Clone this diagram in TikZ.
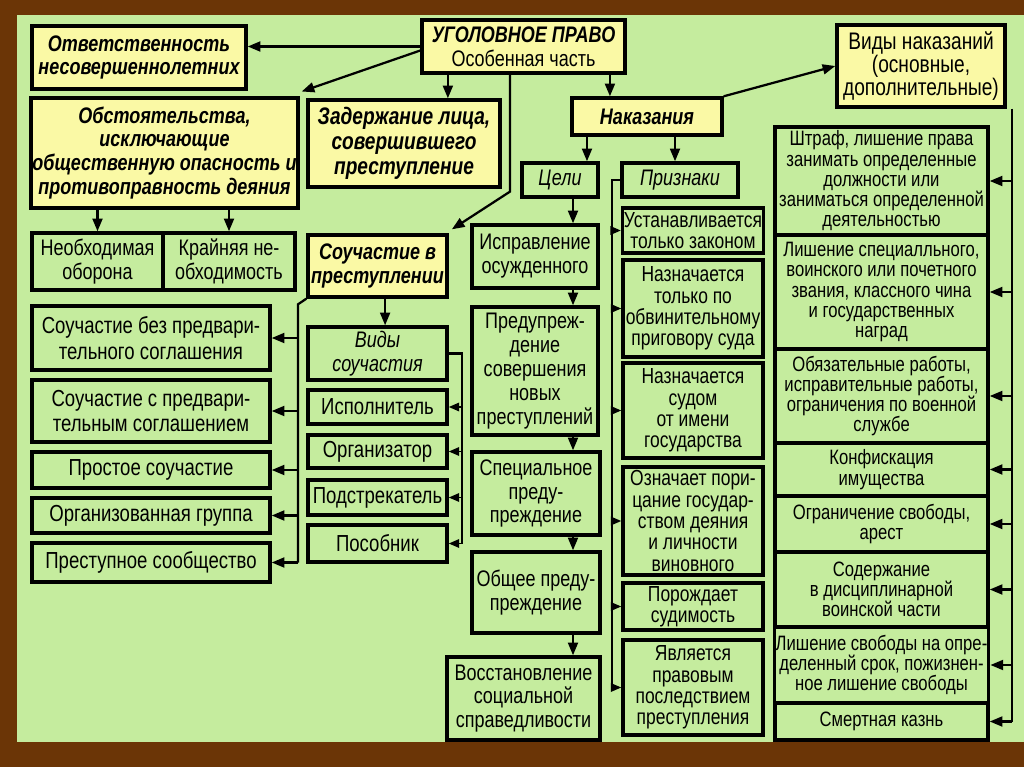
\documentclass[tikz,border=0pt]{standalone}
\usepackage{fontspec}
\setmainfont[FakeStretch=0.8]{Liberation Sans}
\usepackage{tikz}
\usetikzlibrary{positioning,arrows.meta,calc}
\definecolor{frbrown}{RGB}{107,53,6}
\definecolor{bggreen}{RGB}{197,236,158}
\definecolor{boxyellow}{RGB}{250,249,165}
\tikzset{
    gbox/.style={
        rectangle,
        draw=black,
        fill=bggreen,
        line width=2.4pt,
        align=center,
        inner xsep=1pt,
        inner ysep=0pt,
        font=\fontsize{16}{17}\selectfont
    },
    ybox/.style={
        gbox,
        fill=boxyellow,
        font=\fontsize{16}{17}\selectfont\bfseries\itshape
    },
    ibox/.style={
        gbox,
        font=\fontsize{16}{17}\selectfont\itshape
    },
    fbig/.style={font=\fontsize{16.5}{18}\selectfont},
    fsm/.style={font=\fontsize{15.5}{15.2}\selectfont},
    fxs/.style={font=\fontsize{14.8}{14.4}\selectfont},
    sz/.style 2 args={minimum width=#1*0.025cm, minimum height=#2*0.025cm},
    arr/.style={-{Triangle[length=9pt,width=7pt]},line width=1.6pt},
    sarr/.style={-{Triangle[length=7.5pt,width=6pt]},line width=1.4pt},
    ln/.style={line width=1.6pt}
}
\begin{document}
\begin{tikzpicture}[x=0.025cm,y=-0.025cm]
\fill[frbrown] (0,0) rectangle (1024,767);
\fill[bggreen] (17,15) rectangle (1024,742);

% top row
\node[ybox,sz={214}{63}] (otv) at (139,57.5) {Ответственность\\несовершеннолетних};
\node[ybox,sz={203}{53}] (pravo) at (523.5,46.5) {УГОЛОВНОЕ ПРАВО\\{\normalfont Особенная часть}};
\node[gbox,fill=boxyellow,sz={168}{82},font=\fontsize{17}{16.5}\selectfont] (vidy) at (921,66) {Виды наказаний\\(основные,\\дополнительные)};
\node[ybox,sz={150}{37}] (nakaz) at (647,116.5) {Наказания};
\node[ybox,sz={265}{110}] (obst) at (164.5,153) {Обстоятельства,\\исключающие\\общественную опасность и\\противоправность деяния};
\node[ybox,sz={192}{87},font=\fontsize{17}{18}\selectfont\bfseries\itshape] (zader) at (404,143.5) {Задержание лица,\\совершившего\\преступление};

% left part
\node[gbox,sz={131}{57}] (neob) at (97.5,261.5) {Необходимая\\оборона};
\node[gbox,sz={132}{57}] (krain) at (229,261.5) {Крайняя не-\\обходимость};
\node[ybox,sz={139}{62}] (sou) at (377.5,266) {Соучастие в\\преступлении};
\node[gbox,fbig,sz={238}{64}] (soubez) at (151,338) {Соучастие без предвари-\\тельного соглашения};
\node[gbox,fbig,sz={238}{62}] (sous) at (151,411) {Соучастие с предвари-\\тельным соглашением};
\node[gbox,fbig,sz={238}{36}] (prost) at (151,470) {Простое соучастие};
\node[gbox,fbig,sz={238}{35}] (orggr) at (151,515.5) {Организованная группа};
\node[gbox,fbig,sz={238}{39}] (presoob) at (151,562.5) {Преступное сообщество};
\node[ibox,sz={139}{53}] (vidysou) at (377.5,353.5) {Виды\\соучастия};
\node[gbox,fbig,sz={139}{34}] (ispol) at (377.5,407) {Исполнитель};
\node[gbox,fbig,sz={139}{33}] (organ) at (377.5,451.5) {Организатор};
\node[gbox,fbig,sz={139}{35}] (podstr) at (377.5,497.5) {Подстрекатель};
\node[gbox,fbig,sz={139}{37}] (posob) at (377.5,543.5) {Пособник};

% goals
\node[ibox,sz={76}{34}] (celi) at (560,180) {Цели};
\node[gbox,sz={126}{63}] (ispr) at (535,256.5) {Исправление\\осужденного};
\node[gbox,sz={126}{128}] (predupr) at (535,371) {Предупреж-\\дение\\совершения\\новых\\преступлений};
\node[gbox,sz={128}{83}] (spec) at (536,493.5) {Специальное\\преду-\\преждение};
\node[gbox,sz={128}{81}] (obsh) at (536,592.5) {Общее преду-\\преждение};
\node[gbox,sz={153}{83}] (vosst) at (523.5,698.5) {Восстановление\\социальной\\справедливости};

% features
\node[ibox,sz={116}{34}] (priz) at (680,180) {Признаки};
\node[gbox,fsm,sz={140}{45}] (ust) at (693,230.5) {Устанавливается\\только законом};
\node[gbox,fsm,sz={140}{97}] (nazn1) at (693,308.5) {Назначается\\только по\\обвинительному\\приговору суда};
\node[gbox,fsm,sz={140}{95}] (nazn2) at (693,410.5) {Назначается\\судом\\от имени\\государства};
\node[gbox,fsm,sz={140}{108}] (oznach) at (693,521) {Означает пори-\\цание государ-\\ством деяния\\и личности\\виновного};
\node[gbox,fsm,sz={140}{47}] (porozh) at (693,606.5) {Порождает\\судимость};
\node[gbox,fsm,sz={140}{95}] (yavl) at (693,687.5) {Является\\правовым\\последствием\\преступления};

% kinds of punishment
\node[gbox,fxs,sz={213}{108}] (shtraf) at (881.5,181) {Штраф, лишение права\\занимать определенные\\должности или\\заниматься определенной\\деятельностью};
\node[gbox,fxs,sz={213}{114}] (lish) at (881.5,292) {Лишение специалльного,\\воинского или почетного\\звания, классного чина\\и государственных\\наград};
\node[gbox,fxs,sz={213}{94}] (obyaz) at (881.5,396) {Обязательные работы,\\исправительные работы,\\ограничения по военной\\службе};
\node[gbox,fxs,sz={213}{53}] (konf) at (881.5,469.5) {Конфискация\\имущества};
\node[gbox,fxs,sz={213}{56}] (ogr) at (881.5,524) {Ограничение свободы,\\арест};
\node[gbox,fxs,sz={213}{75}] (soder) at (881.5,589.5) {Содержание\\в дисциплинарной\\воинской части};
\node[gbox,fxs,sz={213}{76}] (lishsv) at (881.5,665) {Лишение свободы на опре-\\деленный срок, пожизнен-\\ное лишение свободы};
\node[gbox,fxs,sz={213}{37}] (smert) at (881.5,721.5) {Смертная казнь};

\draw[arr] (pravo.west) -- (pravo.west -| otv.east);
\draw[arr] ([yshift=-0.1cm]pravo.west) -- ([xshift=0.05cm,yshift=0.12cm]obst.north east);
\draw[arr] ([xshift=-1.89cm]pravo.south) -- ([xshift=-1.89cm]pravo.south |- zader.north);
\draw[arr] ([xshift=-0.34cm]pravo.south) -- ++(0,117) -- ([xshift=0.08cm,yshift=0.1cm]sou.north east);
\draw[arr] ([xshift=2.16cm]pravo.south) -- ([xshift=2.16cm]pravo.south |- nakaz.north);
\draw[arr] (nakaz.north east) -- (vidy.west);
\draw[arr] ([xshift=-1.5cm]nakaz.south) -- ([xshift=-1.5cm]nakaz.south |- celi.north);
\draw[arr] ([xshift=0.7cm]nakaz.south) -- ([xshift=0.7cm]nakaz.south |- priz.north);
\draw[arr] (obst.south -| neob.north) -- (neob.north);
\draw[arr] (obst.south -| krain.north) -- (krain.north);
\draw[arr] ([xshift=0.19cm]sou.south) -- ([xshift=0.19cm]sou.south |- vidysou.north);

\coordinate (lx) at (298,0);
\draw[ln] (sou.south west) -- (lx |- soubez.north) -- (lx |- presoob.east);
\foreach \b in {soubez,sous,prost,orggr,presoob}
    \draw[arr] (lx |- \b.east) -- (\b.east);

\coordinate (rx) at (462,0);
\draw[ln] (vidysou.east) -- (rx |- vidysou.east) -- (rx |- posob.east);
\foreach \b in {ispol,organ,podstr,posob}
    \draw[sarr] (rx |- \b.east) -- (\b.east);

\coordinate (cx) at (573,0);
\foreach \a/\b in {celi/ispr,ispr/predupr,predupr/spec,spec/obsh,obsh/vosst}
    \draw[arr] (\a.south -| cx) -- (\b.north -| cx);

\coordinate (px) at (612,0);
\draw[ln] (priz.west) -- (px |- priz.west) -- (px |- yavl.west);
\foreach \b in {ust,nazn1,nazn2,oznach,porozh,yavl}
    \draw[sarr] (px |- \b.west) -- (\b.west);

\coordinate (vx) at (1012,0);
\draw[ln] (vidy.south -| vx) -- (smert.east -| vx);
\foreach \b in {shtraf,lish,obyaz,konf,ogr,soder,lishsv,smert}
    \draw[arr] (vx |- \b.east) -- (\b.east);
\end{tikzpicture}
\end{document}
